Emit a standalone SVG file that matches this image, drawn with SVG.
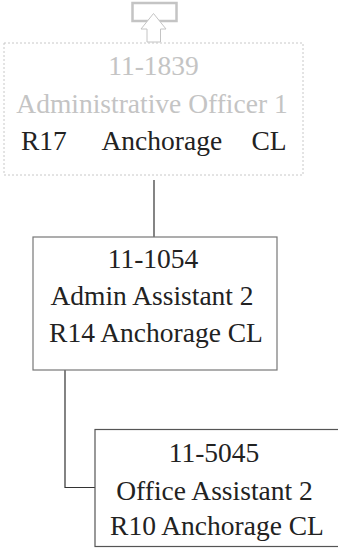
<svg xmlns="http://www.w3.org/2000/svg" width="338" height="549" viewBox="0 0 338 549">
<style>
text{font-family:'Liberation Serif','Times New Roman',Tinos,'DejaVu Serif',serif;font-size:27.5px;text-anchor:middle}
.g{fill:#c4c4c4}
.d{fill:#222}
.conn{stroke:#333;stroke-width:1.2;fill:none}
</style>
<rect width="338" height="549" fill="#fff"/>
<g id="connectors">
<line class="conn" x1="154" y1="180" x2="154" y2="237"/>
<polyline class="conn" points="65,370 65,487.5 95,487.5" stroke="#555"/>
</g>
<g id="up-icon">
<rect x="132.5" y="3" width="44" height="18" fill="none" stroke="#c4c4c4" stroke-width="2.5"/>
<polygon points="153.5,13.5 166,29 160.5,29 160.5,42 147,42 147,29 141,29" fill="#fff" stroke="#c4c4c4" stroke-width="1"/>
</g>
<g id="node-11-1839" font-family="Liberation Serif, serif">
<rect x="4" y="43" width="299" height="132" fill="none" stroke="#c8c8c8" stroke-width="1" stroke-dasharray="2,2"/>
<text class="g" x="153.5" y="75">11-1839</text>
<text class="g" x="152" y="113">Administrative Officer 1</text>
<text class="d" y="150" style="text-anchor:start"><tspan x="21">R17</tspan><tspan x="101.5">Anchorage</tspan><tspan x="251.5">CL</tspan></text>
</g>
<g id="node-11-1054">
<rect x="33" y="237" width="244" height="133" fill="#fff" stroke="#777" stroke-width="1.2"/>
<text class="d" x="153" y="268">11-1054</text>
<text class="d" x="152" y="305">Admin Assistant 2</text>
<text class="d" x="156" y="342">R14 Anchorage CL</text>
</g>
<g id="node-11-5045">
<rect x="95" y="429.5" width="245" height="117" fill="#fff" stroke="#555" stroke-width="1.2"/>
<text class="d" x="214" y="462">11-5045</text>
<text class="d" x="214.5" y="500">Office Assistant 2</text>
<text class="d" x="217" y="535">R10 Anchorage CL</text>
</g>
</svg>
